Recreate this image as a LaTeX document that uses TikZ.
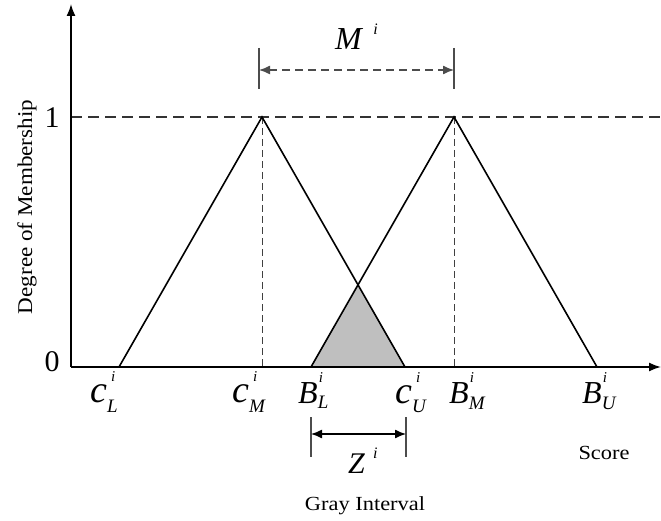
\documentclass[tikz,border=0pt]{standalone}
\usepackage{fontspec}
\setmainfont{Liberation Serif}
\usetikzlibrary{arrows.meta}
% #1 base size, #2 base letter, #3 sup, #4 sub, #5 sup kern, #6 sub drop
\newcommand\mlab[6]{\fontsize{#1}{#1}\selectfont\textit{#2}\rlap{\raisebox{21pt}{\fontsize{15}{15}\selectfont\kern#5\textit{#3}}}\raisebox{-#6}{\fontsize{19}{19}\selectfont\textit{#4}}}
\tikzset{
  axisline/.style={line width=1.6pt,-{Latex[length=12pt,width=9pt]}},
  triline/.style={line width=1.6pt},
  guide/.style={line width=1pt,dash pattern=on 7pt off 4pt,black!75},
  oneline/.style={line width=1.6pt,dash pattern=on 11pt off 6pt,black!80},
  tick/.style={line width=1.1pt,black!70},
  dimarrow/.style={line width=1.3pt,{Latex[length=11pt,width=9pt]}-{Latex[length=11pt,width=9pt]}},
  lab/.style={inner sep=0pt,anchor=base west},
  txt/.style={inner sep=0pt,font=\fontsize{20}{20}\selectfont,xscale=1.12},
}
\begin{document}
\begin{tikzpicture}[x=1pt,y=-1pt]
\useasboundingbox (0,0) rectangle (661,521);
% key points
\coordinate (O) at (71,367);
\coordinate (ytop) at (71,4);
\coordinate (xend) at (661,367);
\coordinate (oneL) at (71,117);
\coordinate (oneR) at (661,117);
\coordinate (cL) at (119,367);
\coordinate (cM) at (262,117);
\coordinate (cU) at (405,367);
\coordinate (BL) at (311,367);
\coordinate (BM) at (454,117);
\coordinate (BU) at (597,367);
\coordinate (X) at (358,284.8);
\coordinate (cMb) at (262,367);
\coordinate (BMb) at (454,367);
% gray region
\fill[black!25] (BL) -- (X) -- (cU) -- cycle;
% dashed level 1
\draw[oneline] (oneL) -- (oneR);
% guides
\draw[guide] (cM) -- (cMb);
\draw[guide] (BM) -- (BMb);
% triangles
\draw[triline,line join=miter] (cL) -- (cM) -- (cU);
\draw[triline,line join=miter] (BL) -- (BM) -- (BU);
% axes
\draw[axisline] (O) -- (ytop);
\draw[axisline] (O) -- (xend);
% M^i dimension
\coordinate (m1t) at (259,48); \coordinate (m1b) at (259,89);
\coordinate (m2t) at (454,48); \coordinate (m2b) at (454,89);
\coordinate (ma) at (259,70); \coordinate (mb) at (454,70);
\draw[tick] (m1t) -- (m1b);
\draw[tick] (m2t) -- (m2b);
\draw[line width=1.3pt,black!70,dash pattern=on 8pt off 5pt,{Latex[length=11pt,width=9pt]}-{Latex[length=11pt,width=9pt]}] (ma) -- (mb);
% Z^i dimension
\coordinate (z1t) at (311,417); \coordinate (z1b) at (311,457);
\coordinate (z2t) at (406,417); \coordinate (z2b) at (406,457);
\coordinate (za) at (311,434); \coordinate (zb) at (406,434);
\draw[tick] (z1t) -- (z1b);
\draw[tick] (z2t) -- (z2b);
\draw[dimarrow] (za) -- (zb);
% labels
\node[lab] (lcL) at (90,402) {\mlab{38}{c}{i}{L}{4pt}{10pt}};
\node[lab] (lcM) at (232,402) {\mlab{38}{c}{i}{M}{4pt}{10pt}};
\node[lab] (lBL) at (298,403) {\mlab{32}{B}{i}{L}{1pt}{5pt}};
\node[lab] (lcU) at (395,403) {\mlab{38}{c}{i}{U}{4pt}{9pt}};
\node[lab] (lBM) at (449,403) {\mlab{32}{B}{i}{M}{1pt}{6pt}};
\node[lab] (lBU) at (582,403) {\mlab{32}{B}{i}{U}{1pt}{6pt}};
\node[lab] (lM) at (335,50) {\fontsize{32}{32}\selectfont\textit{M}\kern10pt\raisebox{15pt}{\fontsize{16}{16}\selectfont\textit{i}}};
\node[lab] (lZ) at (348,473) {\fontsize{30}{30}\selectfont\textit{Z}\kern8pt\raisebox{15pt}{\fontsize{16}{16}\selectfont\textit{i}}};
\node[inner sep=0pt,font=\fontsize{30}{30}\selectfont] (l1) at (52,118) {1};
\node[inner sep=0pt,font=\fontsize{30}{30}\selectfont] (l0) at (52,362) {0};
\node[txt] (score) at (604,453) {Score};
\node[txt] (gray) at (365,506) {Gray Interval};
\node[inner sep=0pt,font=\fontsize{21}{21}\selectfont,rotate=90,xscale=1.1] (deg) at (27,207) {Degree of Membership};
\end{tikzpicture}
\end{document}
